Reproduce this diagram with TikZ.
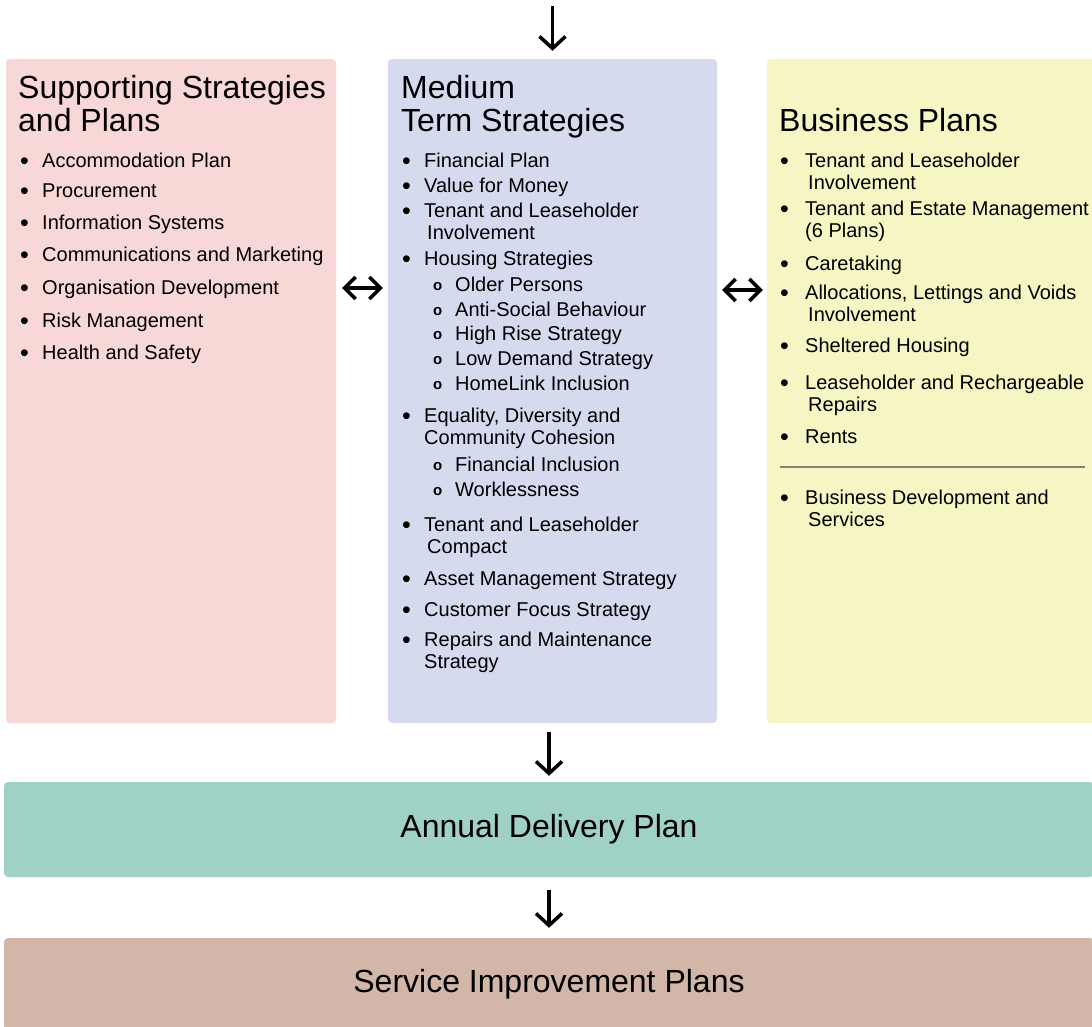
\documentclass[tikz,border=0pt]{standalone}
\usepackage{fontspec}
\setmainfont{Liberation Sans}
\usetikzlibrary{arrows.meta}

\definecolor{pinkbox}{RGB}{248,215,215}
\definecolor{bluebox}{RGB}{213,218,239}
\definecolor{yellowbox}{RGB}{245,246,196}
\definecolor{tealbox}{RGB}{160,209,198}
\definecolor{tanbox}{RGB}{210,182,168}
\definecolor{ruleline}{RGB}{128,132,112}

% bullet items; \two gives a second line with a small hang
% (a node's base is the baseline of its last line)
\newcommand\bigdot{\raisebox{-2pt}{\fontsize{25}{25}\selectfont\textbullet}}
\newcommand\itm[1]{\makebox[22pt][l]{\bigdot}#1}
\newcommand\itmr[1]{\makebox[25pt][l]{\bigdot}#1}
\newcommand\two[3][3pt]{\makebox[22pt][l]{\bigdot}#2\\\hspace*{\dimexpr22pt+#1\relax}#3}
\newcommand\twor[3][3pt]{\makebox[25pt][l]{\bigdot}#2\\\hspace*{\dimexpr25pt+#1\relax}#3}
\newcommand\sub[1]{\hspace*{31pt}\makebox[22pt][l]{\raisebox{1pt}{\fontsize{15}{15}\selectfont\bfseries o}}#1}

\begin{document}
\begin{tikzpicture}[
    x=1pt, y=-1pt,
    panel/.style={rounded corners=4pt, inner sep=0pt},
    title/.style={anchor=base west, inner sep=0pt, align=left,
                  font=\fontsize{32}{33}\selectfont},
    item/.style={anchor=base west, inner sep=0pt, align=left,
                 font=\fontsize{20}{22}\selectfont},
    band/.style={panel, font=\fontsize{32}{33}\selectfont},
    arrow/.style={-{Straight Barb[length=12pt,width=26pt]}, line width=3.5pt},
    twoway/.style={{Straight Barb[length=11pt,width=22pt]}-{Straight Barb[length=11pt,width=22pt]}, line width=3.5pt}
]
\useasboundingbox[fill=white] (0,0) rectangle (1092,1026);

% three columns
\node[panel, fill=pinkbox, minimum width=330pt, minimum height=664pt] (ssp) at (171,391) {};
\node[panel, fill=bluebox, minimum width=329pt, minimum height=664pt] (mts) at (552.5,391) {};
\node[panel, fill=yellowbox, minimum width=336pt, minimum height=664pt] (bp) at (935,391) {};

% bands underneath
\node[band, fill=tealbox, minimum width=1090pt, minimum height=95pt] (adp) at (549,829.5) {Annual Delivery Plan};
\node[band, fill=tanbox, minimum width=1090pt, minimum height=92pt] (sip) at (549,984) {Service Improvement Plans};

% headings
\node[title] (ssp-t) at (18,131) {Supporting Strategies\\and Plans};
\node[title] (mts-t) at (401,131) {Medium\\Term Strategies};
\node[title] (bp-t) at (779,131) {Business Plans};

% supporting strategies and plans
\foreach \y/\t [count=\i] in {167/Accommodation Plan, 197/Procurement,
    229/Information Systems, 261/Communications and Marketing,
    294/Organisation Development, 327/Risk Management, 359/Health and Safety}
  \node[item] (ssp-\i) at (20,\y) {\itm{\t}};

% medium term strategies
\foreach \y/\t [count=\i] in {
    167/{\itm{Financial Plan}},
    192/{\itm{Value for Money}},
    239/{\two{Tenant and Leaseholder}{Involvement}},
    265/{\itm{Housing Strategies}},
    291/{\sub{Older Persons}},
    316/{\sub{Anti-Social Behaviour}},
    340/{\sub{High Rise Strategy}},
    365/{\sub{Low Demand Strategy}},
    390/{\sub{HomeLink Inclusion}},
    444/{\two[0pt]{Equality, Diversity and}{Community Cohesion}},
    471/{\sub{Financial Inclusion}},
    496/{\sub{Worklessness}},
    553/{\two{Tenant and Leaseholder}{Compact}},
    585/{\itm{Asset Management Strategy}},
    616/{\itm{Customer Focus Strategy}},
    668/{\two[0pt]{Repairs and Maintenance}{Strategy}}}
  \node[item] (mts-\i) at (402,\y) {\t};

% business plans
\foreach \y/\t [count=\i] in {
    189/{\twor{Tenant and Leaseholder}{Involvement}},
    237/{\twor[0pt]{Tenant and Estate Management}{(6 Plans)}},
    270/{\itmr{Caretaking}},
    321/{\twor{Allocations, Lettings and Voids}{Involvement}},
    352/{\itmr{Sheltered Housing}},
    411/{\twor{Leaseholder and Rechargeable}{Repairs}},
    443/{\itmr{Rents}},
    526/{\twor{Business Development and}{Services}}}
  \node[item] (bp-\i) at (780,\y) {\t};
\draw[ruleline, line width=1.5pt] (780,467) -- (1085,467);

% flow between the parts
\coordinate (in) at (552.5,6);
\draw[arrow, shorten >=8pt] (in) -- (mts.north);
\draw[twoway, shorten <=6pt, shorten >=5pt] ([yshift=103pt]ssp.east) -- ([yshift=103pt]mts.west);
\draw[twoway, shorten <=5pt, shorten >=4pt] ([yshift=101pt]mts.east) -- ([yshift=101pt]bp.west);
\draw[arrow, shorten <=9pt, shorten >=6pt] (mts.south -| adp.north) -- (adp.north);
\draw[arrow, shorten <=13pt, shorten >=10pt] (adp.south) -- (sip.north);
\end{tikzpicture}
\end{document}
